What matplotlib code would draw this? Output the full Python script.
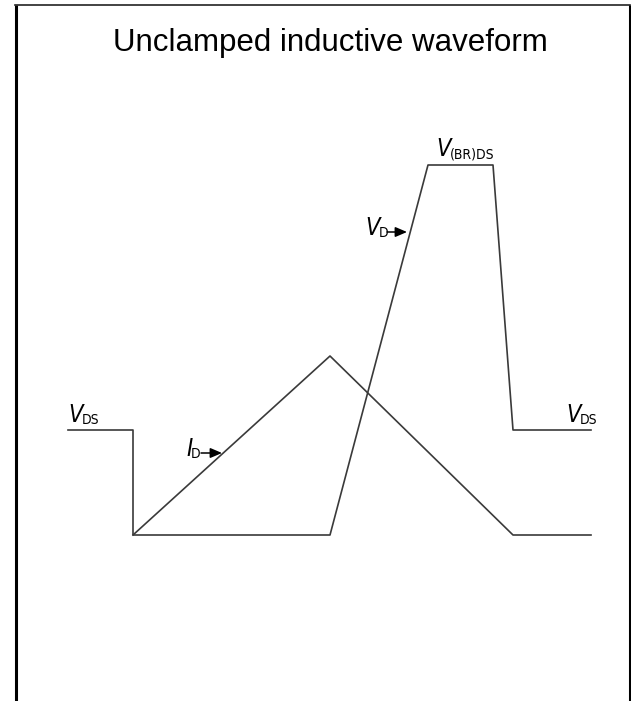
import matplotlib
matplotlib.use("Agg")
import matplotlib.pyplot as plt
from matplotlib import font_manager
from matplotlib.font_manager import FontProperties

# coordinates of the sketch, pixel-like units, y counted upward
vd_t = [68, 133, 133, 330, 428, 493, 513, 591]      # drain voltage
vd_v = [271, 271, 166, 166, 536, 536, 271, 271]
id_t = [133, 330, 513, 591]                           # drain current
id_v = [166, 345, 166, 166]

title = "Unclamped inductive waveform"


def pick(italic):
    # narrow font first, condensed DejaVu next, plain Liberation last
    want = ("italic", "oblique") if italic else ("normal",)
    fl = font_manager.fontManager.ttflist
    for f in fl:
        if f.name == "Liberation Sans Narrow" and f.style in want and f.weight in (400, "normal"):
            return FontProperties(fname=f.fname)
    for f in fl:
        if f.name == "DejaVu Sans" and f.stretch == "condensed" and f.style in want \
                and f.weight in (400, "normal"):
            return FontProperties(fname=f.fname)
    return FontProperties(family="Liberation Sans", style="italic" if italic else "normal")


fp_it = pick(True)
fp_rm = pick(False)

W, H = 631, 701
fig = plt.figure(figsize=(W / 100, H / 100), dpi=100)
ax = fig.add_axes([0, 0, 1, 1])
ax.set_xlim(0, W)
ax.set_ylim(0, H)
ax.axis("off")

# frame (bottom edge is cut off)
ax.plot([15.5, 15.5], [0, 696], color="black", lw=2.2, solid_capstyle="butt")
ax.plot([15, 630], [696, 696], color="#222222", lw=1.2)
ax.plot([629.5, 629.5], [0, 696.5], color="black", lw=2.2, solid_capstyle="butt")

ax.text(330, 650, title, ha="center", va="baseline", fontsize=22.5,
        family="Liberation Sans")

ax.plot(vd_t, vd_v, color="#3a3a3a", lw=1.2)
ax.plot(id_t, id_v, color="#3a3a3a", lw=1.2)


def label(x, y, main, sub):
    t = ax.text(x, y, main, fontproperties=fp_it, fontsize=17, va="baseline", ha="left")
    p = fp_rm.copy()
    p.set_size(10)
    ax.annotate(sub, xy=(1, 0), xycoords=t, xytext=(-0.8, 0), textcoords="offset points",
                fontproperties=p, va="bottom", ha="left")


label(68, 279, "V", "DS")
label(566, 279, "V", "DS")
label(436, 545, "V", "(BR)DS")
label(365, 466, "V", "D")
label(186, 245, "I", "D")

arrow = dict(arrowstyle="-|>,head_length=0.7,head_width=0.3", color="black",
             lw=1.1, mutation_scale=10, shrinkA=0, shrinkB=0)
ax.annotate("", xy=(407, 469), xytext=(387, 469), arrowprops=arrow)
ax.annotate("", xy=(222, 248), xytext=(201, 248), arrowprops=arrow)

fig.savefig("out.png", dpi=100)
